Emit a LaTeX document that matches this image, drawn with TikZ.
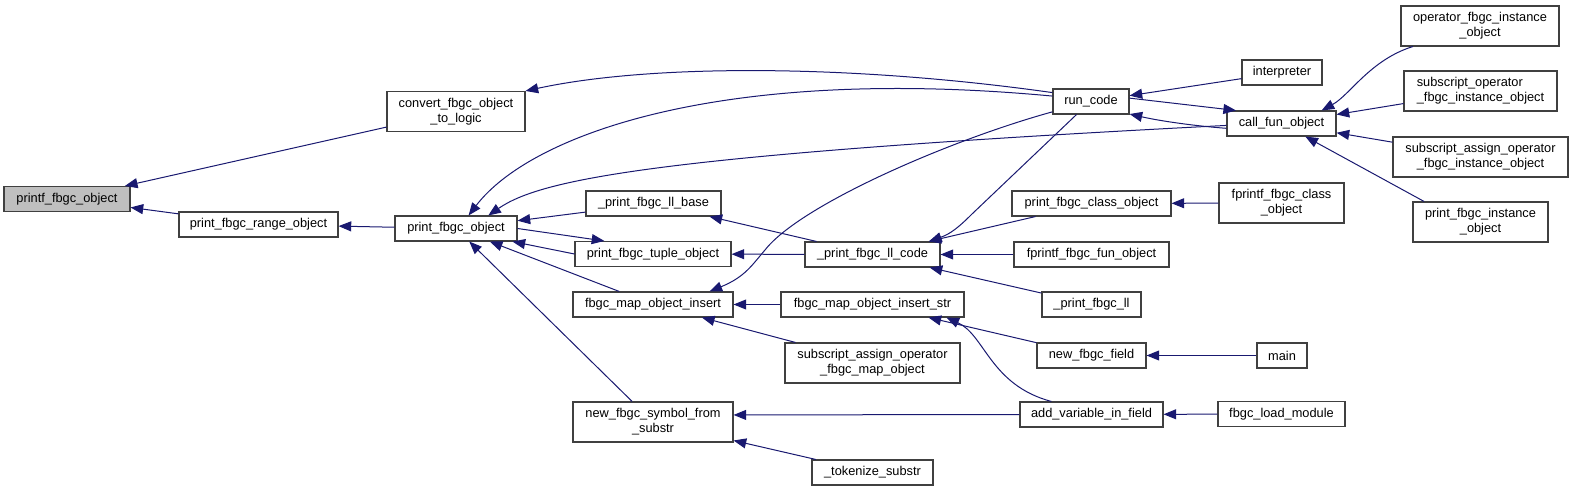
\documentclass[tikz,border=0pt]{standalone}
\usepackage{fontspec}
\setmainfont{Liberation Sans}
\usetikzlibrary{arrows.meta}
\definecolor{edgeblue}{HTML}{191970}
\definecolor{startgray}{HTML}{BFBFBF}

\begin{document}
\begin{tikzpicture}[
    x=0.75pt, y=-0.75pt,
    >={Triangle[length=9.5pt,width=7.5pt]},
    fn/.style={
        rectangle,
        draw=black!75,
        line width=0.8pt,
        fill=white,
        minimum width=#1*0.75pt,
        minimum height=18.75pt,
        inner sep=0pt,
        font=\fontsize{9.6}{11.3}\selectfont
    },
    fn2/.style={fn=#1, minimum height=30pt, align=center},
    fnleft/.style={fn=#1, minimum height=30pt, align=left},
    call/.style={draw=edgeblue, line width=0.75pt}
]
\useasboundingbox (0,0) rectangle (1573,491);

% Nodes — one column at a time, left to right
\node[fn=126, fill=startgray] (printf) at (67,199) {printf\_fbgc\_object};

\node[fn=159]  (range)   at (258.5,224.5) {print\_fbgc\_range\_object};

\node[fn2=138] (convert) at (456,111.5) {convert\_fbgc\_object\\\_to\_logic};
\node[fn=122]  (pfo)     at (456,228.5) {print\_fbgc\_object};

\node[fn=135]  (llbase)  at (653.5,203.5) {\_print\_fbgc\_ll\_base};
\node[fn=156]  (tuple)   at (653,254)     {print\_fbgc\_tuple\_object};
\node[fn=160]  (mapins)  at (653,304.5)   {fbgc\_map\_object\_insert};
\node[fn2=160] (symbol)  at (653,422)     {new\_fbgc\_symbol\_from\\\_substr};

\node[fn=135]  (llcode)   at (872.5,254.5) {\_print\_fbgc\_ll\_code};
\node[fn=183]  (insstr)   at (872.5,304.5) {fbgc\_map\_object\_insert\_str};
\node[fn2=175] (samap)    at (872.5,363)   {subscript\_assign\_operator\\\_fbgc\_map\_object};
\node[fn=121]  (tokenize) at (872.5,472.5) {\_tokenize\_substr};

\node[fn=76]   (runcode)  at (1091,101.5)   {run\_code};
\node[fn=159]  (classobj) at (1091.5,203.5) {print\_fbgc\_class\_object};
\node[fn=155]  (funobj)   at (1091.5,254.5) {fprintf\_fbgc\_fun\_object};
\node[fn=99]   (ll)       at (1091.5,304.5) {\_print\_fbgc\_ll};
\node[fn=109]  (field)    at (1091.5,355.5) {new\_fbgc\_field};
\node[fn=143]  (addvar)   at (1091.5,414.5) {add\_variable\_in\_field};

\node[fn=80]   (interp)   at (1282,72.5)    {interpreter};
\node[fn=109]  (callfun)  at (1281.5,123.5) {call\_fun\_object};
\node[fn2=125] (fclass)   at (1281.5,203)   {fprintf\_fbgc\_class\\\_object};
\node[fn=50]   (main)     at (1282,355.5)   {main};
\node[fn=127]  (loadmod)  at (1281.5,414)   {fbgc\_load\_module};

\node[fn2=158]    (opinst) at (1480,26)     {operator\_fbgc\_instance\\\_object};
\node[fnleft=153] (subop)  at (1480.5,91)   {subscript\_operator\\\_fbgc\_instance\_object};
\node[fn2=175]    (subasg) at (1480.5,157)  {subscript\_assign\_operator\\\_fbgc\_instance\_object};
\node[fn2=135]    (pinst)  at (1480.5,222)  {print\_fbgc\_instance\\\_object};

% Calls (arrow head on the called function)
\draw[call,<-] (printf) -- (convert);
\draw[call,<-] (printf) -- (range);
\draw[call,<-] (range) -- (pfo);
\draw[call,<-] (convert.north east) .. controls (650,64) and (850,64) .. (runcode.167);
\draw[call,<-] (pfo.46) .. controls (530,135) and (720,65) .. (runcode.172);
\draw[call,<-] (pfo.22) .. controls (540,180) and (650,155) .. (callfun.182);
\draw[call,<-] (pfo) -- (llbase);
\draw[call,->] (pfo.east) -- (tuple.165);
\draw[call,<-] (pfo.-13) -- (tuple.west);
\draw[call,<-] (pfo) -- (mapins);
\draw[call,<-] (pfo) -- (symbol);

\draw[call,<-] (llbase) -- (llcode);
\draw[call,<-] (tuple) -- (llcode);
\draw[call,<-] (mapins.13) .. controls (745,277) and (752,265) .. (765,250)
    .. controls (800,205) and (950,140) .. (runcode.195);
\draw[call,<-] (mapins) -- (insstr);
\draw[call,<-] (mapins) -- (samap);
\draw[call,<-] (symbol.5) -- (addvar.west);
\draw[call,<-] (symbol) -- (tokenize);

\draw[call,<-] (llcode.13) .. controls (950,234) and (958,228) .. (972,214) -- (runcode.222);
\draw[call,<-] (llcode) -- (classobj);
\draw[call,<-] (llcode) -- (funobj);
\draw[call,<-] (llcode) -- (ll);
\draw[call,<-] (insstr) -- (field);
\draw[call,<-] (insstr.-10) .. controls (985,335) and (990,385) .. (addvar.162);

\draw[call,<-] (runcode) -- (interp);
\draw[call,->] (runcode.5) -- (callfun.164);
\draw[call,<-] (runcode.-18) .. controls (1160,121) and (1195,126) .. (callfun.185);
\draw[call,<-] (classobj) -- (fclass);
\draw[call,<-] (field) -- (main);
\draw[call,<-] (addvar) -- (loadmod);

\draw[call,<-] (callfun.18) .. controls (1350,95) and (1370,60) .. (opinst.197);
\draw[call,<-] (callfun) -- (subop);
\draw[call,<-] (callfun) -- (subasg);
\draw[call,<-] (callfun) -- (pinst.160);

\end{tikzpicture}
\end{document}
